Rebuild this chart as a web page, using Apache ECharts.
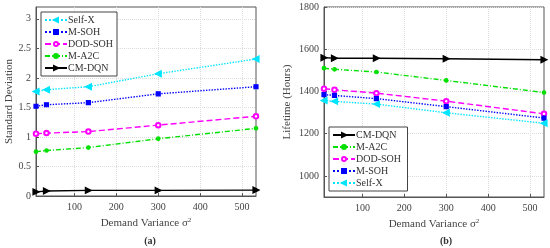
<!DOCTYPE html>
<html>
<head>
<meta charset="utf-8">
<script src="https://cdn.jsdelivr.net/npm/echarts@6/dist/echarts.min.js"></script>
<style>
  html, body { margin: 0; padding: 0; background: #fff; }
  #chart { width: 550px; height: 248px; }
</style>
</head>
<body>
<div id="chart"></div>
<script>
// demand variance (w^2/12 for w = 10,20,40,60,80)
const variance = [8.33, 33.33, 133.33, 300, 533.33];
const xTicks = [100, 200, 300, 400, 500];

// (a) standard deviation
const stdSelfX  = [1.77, 1.80, 1.85, 2.07, 2.32];
const stdMSOH   = [1.52, 1.545, 1.58, 1.73, 1.85];
const stdDODSOH = [1.055, 1.065, 1.09, 1.20, 1.35];
const stdMA2C   = [0.75, 0.77, 0.82, 0.97, 1.145];
const stdCMDQN  = [0.07, 0.085, 0.095, 0.095, 0.10];
const stdTicks  = [0, 0.5, 1, 1.5, 2, 2.5, 3];

// (b) lifetime (hours)
const lifeCMDQN  = [1560, 1557, 1557, 1555, 1550];
const lifeMA2C   = [1510, 1505, 1492, 1452, 1395];
const lifeDODSOH = [1413, 1408, 1392, 1354, 1294];
const lifeMSOH   = [1385, 1381, 1366, 1328, 1274];
const lifeSelfX  = [1357, 1353, 1340, 1299, 1249];
const lifeTicks  = [1000, 1200, 1400, 1600, 1800];

const font = 'Liberation Serif';

const styles = {
  'Self-X':  { color: '#00e5ff', type: 'dotted', symbol: 'triangle', size: 6, rotate: 90 },
  'M-SOH':   { color: '#0000ff', type: 'dotted', symbol: 'rect', size: 4, rotate: 0 },
  'DOD-SOH': { color: '#ff00ff', type: [6, 3], symbol: 'emptyCircle', size: 4.5, rotate: 0 },
  'M-A2C':   { color: '#00e000', type: [5, 2, 1, 2], symbol: 'circle', size: 3.5, rotate: 0 },
  'CM-DQN':  { color: '#000000', type: 'solid', symbol: 'triangle', size: 6, rotate: -90 }
};

function pair(ys) {
  return variance.map((x, i) => [x, ys[i]]);
}

function mk(name, ys, idx, label) {
  const s = styles[name];
  return {
    name: label || name,
    type: 'line',
    xAxisIndex: idx,
    yAxisIndex: idx,
    data: pair(ys),
    symbol: s.symbol,
    symbolSize: s.size,
    symbolRotate: s.rotate,
    showAllSymbol: true,
    lineStyle: { color: s.color, width: 1.4, type: s.type },
    itemStyle: { color: s.color, borderColor: s.color, borderWidth: 1.2 },
    animation: false
  };
}

function xAxis(idx) {
  return {
    type: 'value', gridIndex: idx, min: 8.33, max: 533.33,
    name: 'Demand Variance σ{sup|2}',
    nameLocation: 'middle', nameGap: 19,
    nameTextStyle: {
      fontFamily: font, fontSize: 11, color: '#444',
      rich: { sup: { fontFamily: font, fontSize: 7, color: '#444', verticalAlign: 'top', padding: [0, 0, 6, 0] } }
    },
    axisLine: { lineStyle: { color: '#555' } },
    axisTick: { inside: true, length: 3, customValues: xTicks, lineStyle: { color: '#555' } },
    axisLabel: { customValues: xTicks, fontFamily: font, fontSize: 10, color: '#444', margin: 6 },
    splitLine: { show: true, lineStyle: { color: '#dcdcdc', type: 'dotted' } }
  };
}

function yAxis(idx, min, max, ticks, name, gap) {
  return {
    type: 'value', gridIndex: idx, min: min, max: max,
    name: name, nameLocation: 'middle', nameGap: gap,
    nameTextStyle: { fontFamily: font, fontSize: 11, color: '#444' },
    axisLine: { show: true, lineStyle: { color: '#555' } },
    axisTick: { show: true, inside: true, length: 3, customValues: ticks, lineStyle: { color: '#555' } },
    axisLabel: { customValues: ticks, fontFamily: font, fontSize: 10, color: '#444', margin: 5,
      formatter: v => String(v) },
    splitLine: { show: true, lineStyle: { color: '#dcdcdc', type: 'dotted' } }
  };
}

function legend(left, top, names) {
  return {
    left: left, top: top, orient: 'vertical',
    data: names,
    itemWidth: 22, itemHeight: 5, itemGap: 2,
    padding: [3, 4, 3, 3],
    backgroundColor: '#fff',
    borderColor: '#444', borderWidth: 1, borderRadius: 0,
    textStyle: { fontFamily: font, fontSize: 10, lineHeight: 10, color: '#333', padding: [0, 0, 0, -4] },
    selectedMode: false
  };
}

const chart = echarts.init(document.getElementById('chart'), null, { renderer: 'canvas' });
chart.setOption({
  backgroundColor: '#fff',
  animation: false,
  title: [
    { text: '(a)', left: 145, top: 231, textAlign: 'center',
      textStyle: { fontFamily: font, fontSize: 10, fontWeight: 'bold', color: '#333' } },
    { text: '(b)', left: 441, top: 231, textAlign: 'center',
      textStyle: { fontFamily: font, fontSize: 10, fontWeight: 'bold', color: '#333' } }
  ],
  grid: [
    { left: 36, right: 294, top: 7, bottom: 52, show: true, borderColor: '#555', borderWidth: 1, backgroundColor: '#fff' },
    { left: 324, right: 6, top: 7, bottom: 51, show: true, borderColor: '#555', borderWidth: 1, backgroundColor: '#fff' }
  ],
  xAxis: [xAxis(0), xAxis(1)],
  yAxis: [
    yAxis(0, 0, 3.2, stdTicks, 'Standard Deviation', 21),
    yAxis(1, 900, 1800, lifeTicks, 'Lifetime (Hours)', 31)
  ],
  legend: [
    legend(41, 12, ['Self-X', 'M-SOH', 'DOD-SOH', 'M-A2C', 'CM-DQN']),
    legend(329, 127, ['CM-DQN ', 'M-A2C ', 'DOD-SOH ', 'M-SOH ', 'Self-X '])
  ],
  series: [
    mk('Self-X', stdSelfX, 0),
    mk('M-SOH', stdMSOH, 0),
    mk('DOD-SOH', stdDODSOH, 0),
    mk('M-A2C', stdMA2C, 0),
    mk('CM-DQN', stdCMDQN, 0),
    mk('CM-DQN', lifeCMDQN, 1, 'CM-DQN '),
    mk('M-A2C', lifeMA2C, 1, 'M-A2C '),
    mk('DOD-SOH', lifeDODSOH, 1, 'DOD-SOH '),
    mk('M-SOH', lifeMSOH, 1, 'M-SOH '),
    mk('Self-X', lifeSelfX, 1, 'Self-X ')
  ]
});
</script>
</body>
</html>
